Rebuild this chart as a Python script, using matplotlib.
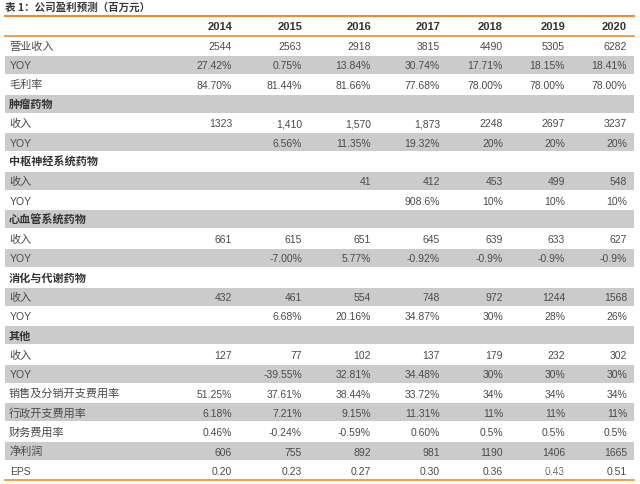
import matplotlib.pyplot as plt

plt.rcParams['font.family'] = ['Liberation Sans Narrow', 'Liberation Sans', 'Noto Sans CJK SC', 'DejaVu Sans']

title = '表 1：公司盈利预测（百万元）'
years = ['2014', '2015', '2016', '2017', '2018', '2019', '2020']

row_labels = ['营业收入', 'YOY', '毛利率', '肿瘤药物', '收入', 'YOY',
              '中枢神经系统药物', '收入', 'YOY', '心血管系统药物', '收入', 'YOY',
              '消化与代谢药物', '收入', 'YOY', '其他', '收入', 'YOY',
              '销售及分销开支费用率', '行政开支费用率', '财务费用率', '净利润', 'EPS']

section_rows = ['肿瘤药物', '中枢神经系统药物', '心血管系统药物', '消化与代谢药物', '其他']

revenue = ['2544', '2563', '2918', '3815', '4490', '5305', '6282']
revenue_yoy = ['27.42%', '0.75%', '13.84%', '30.74%', '17.71%', '18.15%', '18.41%']
gross_margin = ['84.70%', '81.44%', '81.66%', '77.68%', '78.00%', '78.00%', '78.00%']
onco_rev = ['1323', '1,410', '1,570', '1,873', '2248', '2697', '3237']
onco_yoy = ['', '6.56%', '11.35%', '19.32%', '20%', '20%', '20%']
cns_rev = ['', '', '41', '412', '453', '499', '548']
cns_yoy = ['', '', '', '908.6%', '10%', '10%', '10%']
cardio_rev = ['661', '615', '651', '645', '639', '633', '627']
cardio_yoy = ['', '-7.00%', '5.77%', '-0.92%', '-0.9%', '-0.9%', '-0.9%']
digest_rev = ['432', '461', '554', '748', '972', '1244', '1568']
digest_yoy = ['', '6.68%', '20.16%', '34.87%', '30%', '28%', '26%']
other_rev = ['127', '77', '102', '137', '179', '232', '302']
other_yoy = ['', '-39.55%', '32.81%', '34.48%', '30%', '30%', '30%']
selling_rate = ['51.25%', '37.61%', '38.44%', '33.72%', '34%', '34%', '34%']
admin_rate = ['6.18%', '7.21%', '9.15%', '11.31%', '11%', '11%', '11%']
finance_rate = ['0.46%', '-0.24%', '-0.59%', '0.60%', '0.5%', '0.5%', '0.5%']
net_profit = ['606', '755', '892', '981', '1190', '1406', '1665']
eps = ['0.20', '0.23', '0.27', '0.30', '0.36', '0.43', '0.51']

blank = [''] * 7
row_values = [revenue, revenue_yoy, gross_margin, blank, onco_rev, onco_yoy,
              blank, cns_rev, cns_yoy, blank, cardio_rev, cardio_yoy,
              blank, digest_rev, digest_yoy, blank, other_rev, other_yoy,
              selling_rate, admin_rate, finance_rate, net_profit, eps]

# layout in pixel units
col_right = [232, 302, 371, 440, 503, 565, 627]
left, right = 5, 634
header_top, header_bot = 17, 37
row_h = (481 - header_bot) / len(row_labels)
orange = '#F08A2C'
grey = '#CBCBCB'
text_c = '#4A4A4A'
cjk = ['Noto Sans CJK SC', 'DejaVu Sans']

fig = plt.figure(figsize=(6.4, 4.85), dpi=100)
ax = fig.add_axes([0, 0, 1, 1])
ax.set_xlim(0, 640)
ax.set_ylim(485, 0)
ax.axis('off')

ax.text(5, 8, title, fontsize=7.6, fontweight='bold', color='#3A3A3A',
        va='center', ha='left', family=cjk)

for i, y in enumerate(years):
    ax.text(col_right[i], (header_top + header_bot) / 2 + 3.5, y, fontsize=8,
            fontweight='bold', color='#333333', ha='right', va='baseline')

for r, (lab, vals) in enumerate(zip(row_labels, row_values)):
    top = header_bot + r * row_h
    base = top + row_h / 2 + 3.5
    if r % 2 == 1:
        ax.fill_between([left, right], top + 0.6, top + row_h - 0.6, color=grey, lw=0)
    bold = lab in section_rows
    if lab in ('YOY', 'EPS'):
        ax.text(10, base, lab, fontsize=7.5, color=text_c, ha='left', va='baseline')
    else:
        ax.text(9, base - 0.3, lab, fontsize=8, color='#333333' if bold else text_c,
                fontweight='bold' if bold else 'normal', ha='left', va='baseline',
                family=cjk)
    for i, v in enumerate(vals):
        ax.text(col_right[i], base, v, fontsize=7.5, color=text_c, ha='right', va='baseline')

ax.plot([left, right], [header_top, header_top], color=orange, lw=1.5)
ax.plot([left, right], [header_bot, header_bot], color=orange, lw=1.2)
ax.plot([left, right], [481, 481], color=orange, lw=1.2)

ax.text(560, 469, '@智通财经APP', fontsize=8, color='white', alpha=0.7,
        ha='center', va='center', family=cjk)

fig.savefig('out.png', dpi=100)
